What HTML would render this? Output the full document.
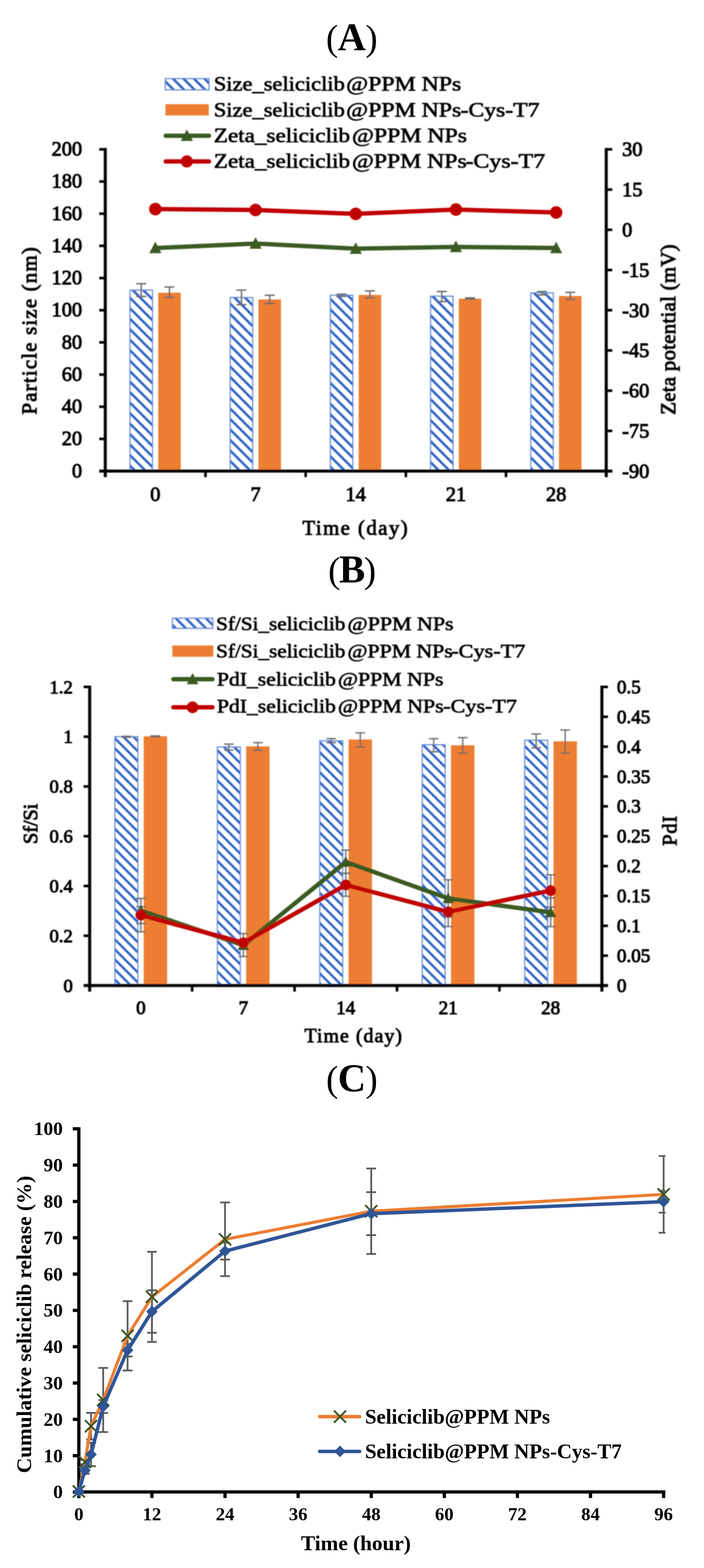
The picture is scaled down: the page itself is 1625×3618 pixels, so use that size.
<!DOCTYPE html><html><head><meta charset="utf-8"><title>Figure</title><style>html,body{margin:0;padding:0;background:#fff;}svg{display:block;}text{font-family:'Liberation Serif', 'Times New Roman', serif;fill:#000;}</style></head><body>
<svg width="1625" height="3618" viewBox="0 0 1625 3618">
<defs>
<pattern id="hA" patternUnits="userSpaceOnUse" width="24.2" height="24.2"><path d="M-5,-5 L29.2,29.2 M-5,19.2 L5,29.2 M19.2,-5 L29.2,5" stroke="#2E62C6" stroke-width="5.6"/></pattern>
<pattern id="hB" patternUnits="userSpaceOnUse" width="23.2" height="23.2"><path d="M-5,-5 L28.2,28.2 M-5,18.2 L5,28.2 M18.2,-5 L28.2,5" stroke="#2E62C6" stroke-width="5.4"/></pattern>
<filter id="soft" x="-2%" y="-2%" width="104%" height="104%"><feGaussianBlur stdDeviation="0.8"/></filter>
</defs>
<rect x="0" y="0" width="1625" height="3618" fill="#fff"/>
<text x="811.6" y="116" font-size="84" text-anchor="middle" letter-spacing="-1">(<tspan font-weight="bold" font-size="90">A</tspan>)</text>
<text x="811.3" y="1344" font-size="84" text-anchor="middle" letter-spacing="-2.8">(<tspan font-weight="bold" font-size="90">B</tspan>)</text>
<text x="811.7" y="2518" font-size="84" text-anchor="middle" letter-spacing="-1">(<tspan font-weight="bold" font-size="90">C</tspan>)</text>
<g filter="url(#soft)">
<rect x="381.5" y="181.3" width="101" height="26" fill="url(#hA)" stroke="#5E88D8" stroke-width="2.5"/>
<rect x="381.9" y="240.4" width="100" height="26" fill="#ED7D31" />
<line x1="382.5" y1="313.3" x2="482.5" y2="313.3" stroke="#3A5A24" stroke-width="10" stroke-linecap="round"/>
<polygon points="431.3,298.7 445.3,325.3 417.3,325.3" fill="#3A5A24"/>
<line x1="382.5" y1="372.6" x2="482.5" y2="372.6" stroke="#C00000" stroke-width="10" stroke-linecap="round"/>
<circle cx="431.3" cy="372.6" r="14" fill="#C00000"/>
<text x="493.4" y="209" font-size="46" font-weight="normal" text-anchor="start" textLength="302.6" lengthAdjust="spacingAndGlyphs" stroke="#000" stroke-width="1.3">Size_seliciclib</text>
<text x="799.1" y="209" font-size="46" font-weight="normal" text-anchor="start" textLength="265.6" lengthAdjust="spacingAndGlyphs" stroke="#000" stroke-width="1.3">@PPM NPs</text>
<text x="493.4" y="268.5" font-size="46" font-weight="normal" text-anchor="start" textLength="302.6" lengthAdjust="spacingAndGlyphs" stroke="#000" stroke-width="1.3">Size_seliciclib</text>
<text x="799.1" y="268.5" font-size="46" font-weight="normal" text-anchor="start" textLength="265.6" lengthAdjust="spacingAndGlyphs" stroke="#000" stroke-width="1.3">@PPM NPs</text>
<text x="1063" y="268.5" font-size="46" font-weight="normal" text-anchor="start" textLength="182.3" lengthAdjust="spacingAndGlyphs" stroke="#000" stroke-width="1.3">-Cys-T7</text>
<text x="493.5" y="328" font-size="46" font-weight="normal" text-anchor="start" textLength="314.5" lengthAdjust="spacingAndGlyphs" stroke="#000" stroke-width="1.3">Zeta_seliciclib</text>
<text x="812.4" y="328" font-size="46" font-weight="normal" text-anchor="start" textLength="265.5" lengthAdjust="spacingAndGlyphs" stroke="#000" stroke-width="1.3">@PPM NPs</text>
<text x="493.5" y="386.5" font-size="46" font-weight="normal" text-anchor="start" textLength="314.5" lengthAdjust="spacingAndGlyphs" stroke="#000" stroke-width="1.3">Zeta_seliciclib</text>
<text x="812.4" y="386.5" font-size="46" font-weight="normal" text-anchor="start" textLength="264.8" lengthAdjust="spacingAndGlyphs" stroke="#000" stroke-width="1.3">@PPM NPs</text>
<text x="1074.5" y="386.5" font-size="46" font-weight="normal" text-anchor="start" textLength="183.7" lengthAdjust="spacingAndGlyphs" stroke="#000" stroke-width="1.3">-Cys-T7</text>
<rect x="300" y="669.4" width="52" height="417.6" fill="url(#hA)" stroke="#5E88D8" stroke-width="2.5"/>
<rect x="365.2" y="675.3" width="52" height="411.7" fill="#ED7D31" />
<rect x="531.3" y="686.4" width="52" height="400.6" fill="url(#hA)" stroke="#5E88D8" stroke-width="2.5"/>
<rect x="596.5" y="690.9" width="52" height="396.1" fill="#ED7D31" />
<rect x="762.5" y="681.2" width="52" height="405.8" fill="url(#hA)" stroke="#5E88D8" stroke-width="2.5"/>
<rect x="827.8" y="680.5" width="52" height="406.5" fill="#ED7D31" />
<rect x="993.8" y="683.3" width="52" height="403.7" fill="url(#hA)" stroke="#5E88D8" stroke-width="2.5"/>
<rect x="1059" y="689.1" width="52" height="397.9" fill="#ED7D31" />
<rect x="1225.1" y="675.7" width="52" height="411.3" fill="url(#hA)" stroke="#5E88D8" stroke-width="2.5"/>
<rect x="1290.3" y="683.1" width="52" height="403.9" fill="#ED7D31" />
<line x1="326" y1="654.6" x2="326" y2="684" stroke="#6A6A6A" stroke-width="3.2" />
<line x1="314.5" y1="654.6" x2="337.5" y2="654.6" stroke="#6A6A6A" stroke-width="3.2" />
<line x1="314.5" y1="684" x2="337.5" y2="684" stroke="#6A6A6A" stroke-width="3.2" />
<line x1="391.2" y1="662.2" x2="391.2" y2="686.4" stroke="#6A6A6A" stroke-width="3.2" />
<line x1="379.7" y1="662.2" x2="402.7" y2="662.2" stroke="#6A6A6A" stroke-width="3.2" />
<line x1="379.7" y1="686.4" x2="402.7" y2="686.4" stroke="#6A6A6A" stroke-width="3.2" />
<line x1="557.3" y1="669.4" x2="557.3" y2="703" stroke="#6A6A6A" stroke-width="3.2" />
<line x1="545.8" y1="669.4" x2="568.8" y2="669.4" stroke="#6A6A6A" stroke-width="3.2" />
<line x1="545.8" y1="703" x2="568.8" y2="703" stroke="#6A6A6A" stroke-width="3.2" />
<line x1="622.5" y1="681.2" x2="622.5" y2="700.2" stroke="#6A6A6A" stroke-width="3.2" />
<line x1="611" y1="681.2" x2="634" y2="681.2" stroke="#6A6A6A" stroke-width="3.2" />
<line x1="611" y1="700.2" x2="634" y2="700.2" stroke="#6A6A6A" stroke-width="3.2" />
<line x1="788.5" y1="678.8" x2="788.5" y2="684" stroke="#6A6A6A" stroke-width="3.2" />
<line x1="777" y1="678.8" x2="800" y2="678.8" stroke="#6A6A6A" stroke-width="3.2" />
<line x1="777" y1="684" x2="800" y2="684" stroke="#6A6A6A" stroke-width="3.2" />
<line x1="853.8" y1="671.2" x2="853.8" y2="687.4" stroke="#6A6A6A" stroke-width="3.2" />
<line x1="842.2" y1="671.2" x2="865.2" y2="671.2" stroke="#6A6A6A" stroke-width="3.2" />
<line x1="842.2" y1="687.4" x2="865.2" y2="687.4" stroke="#6A6A6A" stroke-width="3.2" />
<line x1="1019.8" y1="672.5" x2="1019.8" y2="696" stroke="#6A6A6A" stroke-width="3.2" />
<line x1="1008.3" y1="672.5" x2="1031.3" y2="672.5" stroke="#6A6A6A" stroke-width="3.2" />
<line x1="1008.3" y1="696" x2="1031.3" y2="696" stroke="#6A6A6A" stroke-width="3.2" />
<line x1="1085" y1="687.4" x2="1085" y2="690.2" stroke="#6A6A6A" stroke-width="3.2" />
<line x1="1073.5" y1="687.4" x2="1096.5" y2="687.4" stroke="#6A6A6A" stroke-width="3.2" />
<line x1="1073.5" y1="690.2" x2="1096.5" y2="690.2" stroke="#6A6A6A" stroke-width="3.2" />
<line x1="1251.1" y1="672.7" x2="1251.1" y2="680.5" stroke="#6A6A6A" stroke-width="3.2" />
<line x1="1239.6" y1="672.7" x2="1262.6" y2="672.7" stroke="#6A6A6A" stroke-width="3.2" />
<line x1="1239.6" y1="680.5" x2="1262.6" y2="680.5" stroke="#6A6A6A" stroke-width="3.2" />
<line x1="1316.3" y1="674.5" x2="1316.3" y2="690.9" stroke="#6A6A6A" stroke-width="3.2" />
<line x1="1304.8" y1="674.5" x2="1327.8" y2="674.5" stroke="#6A6A6A" stroke-width="3.2" />
<line x1="1304.8" y1="690.9" x2="1327.8" y2="690.9" stroke="#6A6A6A" stroke-width="3.2" />
<polyline points="358.6,572.3 589.9,561.9 821.1,573.8 1052.4,569.7 1283.7,572.3" fill="none" stroke="#3A5A24" stroke-width="10" stroke-linejoin="round" />
<polygon points="358.6,557.7 372.6,584.3 344.6,584.3" fill="#3A5A24"/>
<polygon points="589.9,547.3 603.9,573.9 575.9,573.9" fill="#3A5A24"/>
<polygon points="821.1,559.2 835.1,585.8 807.1,585.8" fill="#3A5A24"/>
<polygon points="1052.4,555.1 1066.4,581.7 1038.4,581.7" fill="#3A5A24"/>
<polygon points="1283.7,557.7 1297.7,584.3 1269.7,584.3" fill="#3A5A24"/>
<polyline points="358.6,482.5 589.9,484.6 821.1,493.4 1052.4,483.6 1283.7,490.3" fill="none" stroke="#C00000" stroke-width="10" stroke-linejoin="round" />
<circle cx="358.6" cy="482.5" r="14.5" fill="#C00000"/>
<circle cx="589.9" cy="484.6" r="14.5" fill="#C00000"/>
<circle cx="821.1" cy="493.4" r="14.5" fill="#C00000"/>
<circle cx="1052.4" cy="483.6" r="14.5" fill="#C00000"/>
<circle cx="1283.7" cy="490.3" r="14.5" fill="#C00000"/>
<line x1="243" y1="341.6" x2="243" y2="1101" stroke="#000" stroke-width="7" />
<line x1="1399.3" y1="341.6" x2="1399.3" y2="1101" stroke="#000" stroke-width="7" />
<line x1="229" y1="1087" x2="1413.3" y2="1087" stroke="#000" stroke-width="7" />
<line x1="229" y1="1087" x2="243" y2="1087" stroke="#000" stroke-width="6" />
<text x="189.5" y="1101.5" font-size="47" font-weight="normal" text-anchor="end" stroke="#000" stroke-width="1.9">0</text>
<line x1="229" y1="1012.8" x2="243" y2="1012.8" stroke="#000" stroke-width="6" />
<text x="189.5" y="1027.3" font-size="47" font-weight="normal" text-anchor="end" stroke="#000" stroke-width="1.9">20</text>
<line x1="229" y1="938.5" x2="243" y2="938.5" stroke="#000" stroke-width="6" />
<text x="189.5" y="953" font-size="47" font-weight="normal" text-anchor="end" stroke="#000" stroke-width="1.9">40</text>
<line x1="229" y1="864.3" x2="243" y2="864.3" stroke="#000" stroke-width="6" />
<text x="189.5" y="878.8" font-size="47" font-weight="normal" text-anchor="end" stroke="#000" stroke-width="1.9">60</text>
<line x1="229" y1="790" x2="243" y2="790" stroke="#000" stroke-width="6" />
<text x="189.5" y="804.5" font-size="47" font-weight="normal" text-anchor="end" stroke="#000" stroke-width="1.9">80</text>
<line x1="229" y1="715.8" x2="243" y2="715.8" stroke="#000" stroke-width="6" />
<text x="189.5" y="730.3" font-size="47" font-weight="normal" text-anchor="end" stroke="#000" stroke-width="1.9">100</text>
<line x1="229" y1="641.6" x2="243" y2="641.6" stroke="#000" stroke-width="6" />
<text x="189.5" y="656.1" font-size="47" font-weight="normal" text-anchor="end" stroke="#000" stroke-width="1.9">120</text>
<line x1="229" y1="567.3" x2="243" y2="567.3" stroke="#000" stroke-width="6" />
<text x="189.5" y="581.8" font-size="47" font-weight="normal" text-anchor="end" stroke="#000" stroke-width="1.9">140</text>
<line x1="229" y1="493.1" x2="243" y2="493.1" stroke="#000" stroke-width="6" />
<text x="189.5" y="507.6" font-size="47" font-weight="normal" text-anchor="end" stroke="#000" stroke-width="1.9">160</text>
<line x1="229" y1="418.8" x2="243" y2="418.8" stroke="#000" stroke-width="6" />
<text x="189.5" y="433.3" font-size="47" font-weight="normal" text-anchor="end" stroke="#000" stroke-width="1.9">180</text>
<line x1="229" y1="344.6" x2="243" y2="344.6" stroke="#000" stroke-width="6" />
<text x="189.5" y="359.1" font-size="47" font-weight="normal" text-anchor="end" stroke="#000" stroke-width="1.9">200</text>
<line x1="1399.3" y1="344.6" x2="1413.3" y2="344.6" stroke="#000" stroke-width="6" />
<text x="1436" y="360.4" font-size="47" font-weight="normal" text-anchor="start" stroke="#000" stroke-width="1.9">30</text>
<line x1="1399.3" y1="437.4" x2="1413.3" y2="437.4" stroke="#000" stroke-width="6" />
<text x="1436" y="453.2" font-size="47" font-weight="normal" text-anchor="start" stroke="#000" stroke-width="1.9">15</text>
<line x1="1399.3" y1="530.2" x2="1413.3" y2="530.2" stroke="#000" stroke-width="6" />
<text x="1436" y="546" font-size="47" font-weight="normal" text-anchor="start" stroke="#000" stroke-width="1.9">0</text>
<line x1="1399.3" y1="623" x2="1413.3" y2="623" stroke="#000" stroke-width="6" />
<text x="1436" y="638.8" font-size="47" font-weight="normal" text-anchor="start" stroke="#000" stroke-width="1.9">-15</text>
<line x1="1399.3" y1="715.8" x2="1413.3" y2="715.8" stroke="#000" stroke-width="6" />
<text x="1436" y="731.6" font-size="47" font-weight="normal" text-anchor="start" stroke="#000" stroke-width="1.9">-30</text>
<line x1="1399.3" y1="808.6" x2="1413.3" y2="808.6" stroke="#000" stroke-width="6" />
<text x="1436" y="824.4" font-size="47" font-weight="normal" text-anchor="start" stroke="#000" stroke-width="1.9">-45</text>
<line x1="1399.3" y1="901.4" x2="1413.3" y2="901.4" stroke="#000" stroke-width="6" />
<text x="1436" y="917.2" font-size="47" font-weight="normal" text-anchor="start" stroke="#000" stroke-width="1.9">-60</text>
<line x1="1399.3" y1="994.2" x2="1413.3" y2="994.2" stroke="#000" stroke-width="6" />
<text x="1436" y="1010" font-size="47" font-weight="normal" text-anchor="start" stroke="#000" stroke-width="1.9">-75</text>
<line x1="1399.3" y1="1087" x2="1413.3" y2="1087" stroke="#000" stroke-width="6" />
<text x="1436" y="1102.8" font-size="47" font-weight="normal" text-anchor="start" stroke="#000" stroke-width="1.9">-90</text>
<line x1="243" y1="1087" x2="243" y2="1101" stroke="#000" stroke-width="6" />
<line x1="474.3" y1="1087" x2="474.3" y2="1101" stroke="#000" stroke-width="6" />
<line x1="705.5" y1="1087" x2="705.5" y2="1101" stroke="#000" stroke-width="6" />
<line x1="936.8" y1="1087" x2="936.8" y2="1101" stroke="#000" stroke-width="6" />
<line x1="1168" y1="1087" x2="1168" y2="1101" stroke="#000" stroke-width="6" />
<line x1="1399.3" y1="1087" x2="1399.3" y2="1101" stroke="#000" stroke-width="6" />
<text x="358.6" y="1156" font-size="47" font-weight="normal" text-anchor="middle" stroke="#000" stroke-width="1.9">0</text>
<text x="589.9" y="1156" font-size="47" font-weight="normal" text-anchor="middle" stroke="#000" stroke-width="1.9">7</text>
<text x="821.1" y="1156" font-size="47" font-weight="normal" text-anchor="middle" stroke="#000" stroke-width="1.9">14</text>
<text x="1052.4" y="1156" font-size="47" font-weight="normal" text-anchor="middle" stroke="#000" stroke-width="1.9">21</text>
<text x="1283.7" y="1156" font-size="47" font-weight="normal" text-anchor="middle" stroke="#000" stroke-width="1.9">28</text>
<text x="819.5" y="1233.5" font-size="48" font-weight="normal" text-anchor="middle" textLength="243" lengthAdjust="spacing" stroke="#000" stroke-width="1.7">Time (day)</text>
<text transform="translate(84,763.5) rotate(-90)" x="0" y="0" font-size="48" text-anchor="middle" textLength="386" lengthAdjust="spacing" stroke="#000" stroke-width="1.9">Particle size (nm)</text>
<text transform="translate(1558.5,760.5) rotate(-90)" x="0" y="0" font-size="48" text-anchor="middle" textLength="393" lengthAdjust="spacing" stroke="#000" stroke-width="1.9">Zeta potential (mV)</text>
<rect x="397.8" y="1426.4" width="93.5" height="23.5" fill="url(#hB)" stroke="#5E88D8" stroke-width="2.5"/>
<rect x="397.8" y="1489.4" width="94.5" height="26" fill="#ED7D31" />
<line x1="400" y1="1567.2" x2="490.5" y2="1567.2" stroke="#3A5A24" stroke-width="10" stroke-linecap="round"/>
<polygon points="444.5,1553.1 458,1578.7 431,1578.7" fill="#3A5A24"/>
<line x1="400" y1="1632" x2="490.5" y2="1632" stroke="#C00000" stroke-width="10" stroke-linecap="round"/>
<circle cx="444.5" cy="1632" r="13.5" fill="#C00000"/>
<text x="498.8" y="1453.5" font-size="45" font-weight="normal" text-anchor="start" textLength="298.5" lengthAdjust="spacingAndGlyphs" stroke="#000" stroke-width="1.3">Sf/Si_seliciclib</text>
<text x="802.1" y="1453.5" font-size="45" font-weight="normal" text-anchor="start" textLength="244.9" lengthAdjust="spacingAndGlyphs" stroke="#000" stroke-width="1.3">@PPM NPs</text>
<text x="498.8" y="1517" font-size="45" font-weight="normal" text-anchor="start" textLength="298.5" lengthAdjust="spacingAndGlyphs" stroke="#000" stroke-width="1.3">Sf/Si_seliciclib</text>
<text x="802.1" y="1517" font-size="45" font-weight="normal" text-anchor="start" textLength="242.9" lengthAdjust="spacingAndGlyphs" stroke="#000" stroke-width="1.3">@PPM NPs</text>
<text x="1041.5" y="1517" font-size="45" font-weight="normal" text-anchor="start" textLength="171.3" lengthAdjust="spacingAndGlyphs" stroke="#000" stroke-width="1.3">-Cys-T7</text>
<text x="500.8" y="1581.5" font-size="45" font-weight="normal" text-anchor="start" textLength="274.4" lengthAdjust="spacingAndGlyphs" stroke="#000" stroke-width="1.3">PdI_seliciclib</text>
<text x="780" y="1581.5" font-size="45" font-weight="normal" text-anchor="start" textLength="243.5" lengthAdjust="spacingAndGlyphs" stroke="#000" stroke-width="1.3">@PPM NPs</text>
<text x="500.8" y="1643.5" font-size="45" font-weight="normal" text-anchor="start" textLength="274.4" lengthAdjust="spacingAndGlyphs" stroke="#000" stroke-width="1.3">PdI_seliciclib</text>
<text x="780" y="1643.5" font-size="45" font-weight="normal" text-anchor="start" textLength="244" lengthAdjust="spacingAndGlyphs" stroke="#000" stroke-width="1.3">@PPM NPs</text>
<text x="1023" y="1643.5" font-size="45" font-weight="normal" text-anchor="start" textLength="170.4" lengthAdjust="spacingAndGlyphs" stroke="#000" stroke-width="1.3">-Cys-T7</text>
<rect x="265.2" y="1699.7" width="53" height="574.3" fill="url(#hB)" stroke="#5E88D8" stroke-width="2.5"/>
<rect x="331.7" y="1698.8" width="54" height="575.2" fill="#ED7D31" />
<rect x="501.7" y="1723.5" width="53" height="550.5" fill="url(#hB)" stroke="#5E88D8" stroke-width="2.5"/>
<rect x="568.2" y="1722.2" width="54" height="551.8" fill="#ED7D31" />
<rect x="738.1" y="1709.3" width="53" height="564.7" fill="url(#hB)" stroke="#5E88D8" stroke-width="2.5"/>
<rect x="804.6" y="1706.3" width="54" height="567.7" fill="#ED7D31" />
<rect x="974.6" y="1718.4" width="53" height="555.6" fill="url(#hB)" stroke="#5E88D8" stroke-width="2.5"/>
<rect x="1041.1" y="1719.6" width="54" height="554.4" fill="#ED7D31" />
<rect x="1211.1" y="1708" width="53" height="566" fill="url(#hB)" stroke="#5E88D8" stroke-width="2.5"/>
<rect x="1277.6" y="1710.5" width="54" height="563.5" fill="#ED7D31" />
<line x1="291.7" y1="1699" x2="291.7" y2="1701" stroke="#6A6A6A" stroke-width="3" />
<line x1="280.7" y1="1699" x2="302.7" y2="1699" stroke="#6A6A6A" stroke-width="3" />
<line x1="280.7" y1="1701" x2="302.7" y2="1701" stroke="#6A6A6A" stroke-width="3" />
<line x1="358.7" y1="1698" x2="358.7" y2="1700" stroke="#6A6A6A" stroke-width="3" />
<line x1="347.7" y1="1698" x2="369.7" y2="1698" stroke="#6A6A6A" stroke-width="3" />
<line x1="347.7" y1="1700" x2="369.7" y2="1700" stroke="#6A6A6A" stroke-width="3" />
<line x1="528.2" y1="1717" x2="528.2" y2="1730.8" stroke="#6A6A6A" stroke-width="3" />
<line x1="517.2" y1="1717" x2="539.2" y2="1717" stroke="#6A6A6A" stroke-width="3" />
<line x1="517.2" y1="1730.8" x2="539.2" y2="1730.8" stroke="#6A6A6A" stroke-width="3" />
<line x1="595.2" y1="1713.5" x2="595.2" y2="1731.2" stroke="#6A6A6A" stroke-width="3" />
<line x1="584.2" y1="1713.5" x2="606.2" y2="1713.5" stroke="#6A6A6A" stroke-width="3" />
<line x1="584.2" y1="1731.2" x2="606.2" y2="1731.2" stroke="#6A6A6A" stroke-width="3" />
<line x1="764.6" y1="1704.4" x2="764.6" y2="1713.5" stroke="#6A6A6A" stroke-width="3" />
<line x1="753.6" y1="1704.4" x2="775.6" y2="1704.4" stroke="#6A6A6A" stroke-width="3" />
<line x1="753.6" y1="1713.5" x2="775.6" y2="1713.5" stroke="#6A6A6A" stroke-width="3" />
<line x1="831.6" y1="1691" x2="831.6" y2="1723.8" stroke="#6A6A6A" stroke-width="3" />
<line x1="820.6" y1="1691" x2="842.6" y2="1691" stroke="#6A6A6A" stroke-width="3" />
<line x1="820.6" y1="1723.8" x2="842.6" y2="1723.8" stroke="#6A6A6A" stroke-width="3" />
<line x1="1001.1" y1="1704.4" x2="1001.1" y2="1734.7" stroke="#6A6A6A" stroke-width="3" />
<line x1="990.1" y1="1704.4" x2="1012.1" y2="1704.4" stroke="#6A6A6A" stroke-width="3" />
<line x1="990.1" y1="1734.7" x2="1012.1" y2="1734.7" stroke="#6A6A6A" stroke-width="3" />
<line x1="1068.1" y1="1702" x2="1068.1" y2="1737.7" stroke="#6A6A6A" stroke-width="3" />
<line x1="1057.1" y1="1702" x2="1079.1" y2="1702" stroke="#6A6A6A" stroke-width="3" />
<line x1="1057.1" y1="1737.7" x2="1079.1" y2="1737.7" stroke="#6A6A6A" stroke-width="3" />
<line x1="1237.6" y1="1693.6" x2="1237.6" y2="1725.6" stroke="#6A6A6A" stroke-width="3" />
<line x1="1226.6" y1="1693.6" x2="1248.6" y2="1693.6" stroke="#6A6A6A" stroke-width="3" />
<line x1="1226.6" y1="1725.6" x2="1248.6" y2="1725.6" stroke="#6A6A6A" stroke-width="3" />
<line x1="1304.6" y1="1684.5" x2="1304.6" y2="1737.7" stroke="#6A6A6A" stroke-width="3" />
<line x1="1293.6" y1="1684.5" x2="1315.6" y2="1684.5" stroke="#6A6A6A" stroke-width="3" />
<line x1="1293.6" y1="1737.7" x2="1315.6" y2="1737.7" stroke="#6A6A6A" stroke-width="3" />
<line x1="325.2" y1="2073" x2="325.2" y2="2131" stroke="#6A6A6A" stroke-width="3" />
<line x1="314.2" y1="2073" x2="336.2" y2="2073" stroke="#6A6A6A" stroke-width="3" />
<line x1="314.2" y1="2131" x2="336.2" y2="2131" stroke="#6A6A6A" stroke-width="3" />
<line x1="325.2" y1="2092" x2="325.2" y2="2150" stroke="#6A6A6A" stroke-width="3" />
<line x1="314.2" y1="2092" x2="336.2" y2="2092" stroke="#6A6A6A" stroke-width="3" />
<line x1="314.2" y1="2150" x2="336.2" y2="2150" stroke="#6A6A6A" stroke-width="3" />
<line x1="561.7" y1="2154" x2="561.7" y2="2207" stroke="#6A6A6A" stroke-width="3" />
<line x1="550.7" y1="2154" x2="572.7" y2="2154" stroke="#6A6A6A" stroke-width="3" />
<line x1="550.7" y1="2207" x2="572.7" y2="2207" stroke="#6A6A6A" stroke-width="3" />
<line x1="798.1" y1="1961.5" x2="798.1" y2="2015" stroke="#6A6A6A" stroke-width="3" />
<line x1="787.1" y1="1961.5" x2="809.1" y2="1961.5" stroke="#6A6A6A" stroke-width="3" />
<line x1="787.1" y1="2015" x2="809.1" y2="2015" stroke="#6A6A6A" stroke-width="3" />
<line x1="798.1" y1="2015" x2="798.1" y2="2068" stroke="#6A6A6A" stroke-width="3" />
<line x1="787.1" y1="2015" x2="809.1" y2="2015" stroke="#6A6A6A" stroke-width="3" />
<line x1="787.1" y1="2068" x2="809.1" y2="2068" stroke="#6A6A6A" stroke-width="3" />
<line x1="1034.6" y1="2030" x2="1034.6" y2="2116" stroke="#6A6A6A" stroke-width="3" />
<line x1="1023.6" y1="2030" x2="1045.6" y2="2030" stroke="#6A6A6A" stroke-width="3" />
<line x1="1023.6" y1="2116" x2="1045.6" y2="2116" stroke="#6A6A6A" stroke-width="3" />
<line x1="1034.6" y1="2070" x2="1034.6" y2="2138" stroke="#6A6A6A" stroke-width="3" />
<line x1="1023.6" y1="2070" x2="1045.6" y2="2070" stroke="#6A6A6A" stroke-width="3" />
<line x1="1023.6" y1="2138" x2="1045.6" y2="2138" stroke="#6A6A6A" stroke-width="3" />
<line x1="1271.1" y1="2018.6" x2="1271.1" y2="2093" stroke="#6A6A6A" stroke-width="3" />
<line x1="1260.1" y1="2018.6" x2="1282.1" y2="2018.6" stroke="#6A6A6A" stroke-width="3" />
<line x1="1260.1" y1="2093" x2="1282.1" y2="2093" stroke="#6A6A6A" stroke-width="3" />
<line x1="1271.1" y1="2072" x2="1271.1" y2="2138" stroke="#6A6A6A" stroke-width="3" />
<line x1="1260.1" y1="2072" x2="1282.1" y2="2072" stroke="#6A6A6A" stroke-width="3" />
<line x1="1260.1" y1="2138" x2="1282.1" y2="2138" stroke="#6A6A6A" stroke-width="3" />
<polyline points="325.2,2101 561.7,2181 798.1,1989 1034.6,2073 1271.1,2105.2" fill="none" stroke="#3A5A24" stroke-width="10" stroke-linejoin="round" />
<polygon points="325.2,2087.4 338.2,2112.1 312.2,2112.1" fill="#3A5A24"/>
<polygon points="561.7,2167.4 574.7,2192.1 548.7,2192.1" fill="#3A5A24"/>
<polygon points="798.1,1975.4 811.1,2000.1 785.1,2000.1" fill="#3A5A24"/>
<polygon points="1034.6,2059.4 1047.6,2084.1 1021.6,2084.1" fill="#3A5A24"/>
<polygon points="1271.1,2091.6 1284.1,2116.3 1258.1,2116.3" fill="#3A5A24"/>
<polyline points="325.2,2111.5 561.7,2175.2 798.1,2041.9 1034.6,2104.1 1271.1,2054.9" fill="none" stroke="#C00000" stroke-width="10" stroke-linejoin="round" />
<circle cx="325.2" cy="2111.5" r="12.5" fill="#C00000"/>
<circle cx="561.7" cy="2175.2" r="12.5" fill="#C00000"/>
<circle cx="798.1" cy="2041.9" r="12.5" fill="#C00000"/>
<circle cx="1034.6" cy="2104.1" r="12.5" fill="#C00000"/>
<circle cx="1271.1" cy="2054.9" r="12.5" fill="#C00000"/>
<line x1="207" y1="1582" x2="207" y2="2288" stroke="#000" stroke-width="7" />
<line x1="1389.3" y1="1582" x2="1389.3" y2="2288" stroke="#000" stroke-width="7" />
<line x1="193" y1="2274" x2="1403.3" y2="2274" stroke="#000" stroke-width="7" />
<line x1="193" y1="2274" x2="207" y2="2274" stroke="#000" stroke-width="6" />
<text x="168" y="2288.5" font-size="43" font-weight="normal" text-anchor="end" stroke="#000" stroke-width="1.9">0</text>
<line x1="193" y1="2159.2" x2="207" y2="2159.2" stroke="#000" stroke-width="6" />
<text x="168" y="2173.7" font-size="43" font-weight="normal" text-anchor="end" stroke="#000" stroke-width="1.9">0.2</text>
<line x1="193" y1="2044.3" x2="207" y2="2044.3" stroke="#000" stroke-width="6" />
<text x="168" y="2058.8" font-size="43" font-weight="normal" text-anchor="end" stroke="#000" stroke-width="1.9">0.4</text>
<line x1="193" y1="1929.5" x2="207" y2="1929.5" stroke="#000" stroke-width="6" />
<text x="168" y="1944" font-size="43" font-weight="normal" text-anchor="end" stroke="#000" stroke-width="1.9">0.6</text>
<line x1="193" y1="1814.7" x2="207" y2="1814.7" stroke="#000" stroke-width="6" />
<text x="168" y="1829.2" font-size="43" font-weight="normal" text-anchor="end" stroke="#000" stroke-width="1.9">0.8</text>
<line x1="193" y1="1699.8" x2="207" y2="1699.8" stroke="#000" stroke-width="6" />
<text x="168" y="1714.3" font-size="43" font-weight="normal" text-anchor="end" stroke="#000" stroke-width="1.9">1</text>
<line x1="193" y1="1585" x2="207" y2="1585" stroke="#000" stroke-width="6" />
<text x="168" y="1599.5" font-size="43" font-weight="normal" text-anchor="end" stroke="#000" stroke-width="1.9">1.2</text>
<line x1="1389.3" y1="2274" x2="1403.3" y2="2274" stroke="#000" stroke-width="6" />
<text x="1424" y="2288.8" font-size="44" font-weight="normal" text-anchor="start" stroke="#000" stroke-width="1.9">0</text>
<line x1="1389.3" y1="2205.1" x2="1403.3" y2="2205.1" stroke="#000" stroke-width="6" />
<text x="1424" y="2219.9" font-size="44" font-weight="normal" text-anchor="start" stroke="#000" stroke-width="1.9">0.05</text>
<line x1="1389.3" y1="2136.2" x2="1403.3" y2="2136.2" stroke="#000" stroke-width="6" />
<text x="1424" y="2151" font-size="44" font-weight="normal" text-anchor="start" stroke="#000" stroke-width="1.9">0.1</text>
<line x1="1389.3" y1="2067.3" x2="1403.3" y2="2067.3" stroke="#000" stroke-width="6" />
<text x="1424" y="2082.1" font-size="44" font-weight="normal" text-anchor="start" stroke="#000" stroke-width="1.9">0.15</text>
<line x1="1389.3" y1="1998.4" x2="1403.3" y2="1998.4" stroke="#000" stroke-width="6" />
<text x="1424" y="2013.2" font-size="44" font-weight="normal" text-anchor="start" stroke="#000" stroke-width="1.9">0.2</text>
<line x1="1389.3" y1="1929.5" x2="1403.3" y2="1929.5" stroke="#000" stroke-width="6" />
<text x="1424" y="1944.3" font-size="44" font-weight="normal" text-anchor="start" stroke="#000" stroke-width="1.9">0.25</text>
<line x1="1389.3" y1="1860.6" x2="1403.3" y2="1860.6" stroke="#000" stroke-width="6" />
<text x="1424" y="1875.4" font-size="44" font-weight="normal" text-anchor="start" stroke="#000" stroke-width="1.9">0.3</text>
<line x1="1389.3" y1="1791.7" x2="1403.3" y2="1791.7" stroke="#000" stroke-width="6" />
<text x="1424" y="1806.5" font-size="44" font-weight="normal" text-anchor="start" stroke="#000" stroke-width="1.9">0.35</text>
<line x1="1389.3" y1="1722.8" x2="1403.3" y2="1722.8" stroke="#000" stroke-width="6" />
<text x="1424" y="1737.6" font-size="44" font-weight="normal" text-anchor="start" stroke="#000" stroke-width="1.9">0.4</text>
<line x1="1389.3" y1="1653.9" x2="1403.3" y2="1653.9" stroke="#000" stroke-width="6" />
<text x="1424" y="1668.7" font-size="44" font-weight="normal" text-anchor="start" stroke="#000" stroke-width="1.9">0.45</text>
<line x1="1389.3" y1="1585" x2="1403.3" y2="1585" stroke="#000" stroke-width="6" />
<text x="1424" y="1599.8" font-size="44" font-weight="normal" text-anchor="start" stroke="#000" stroke-width="1.9">0.5</text>
<line x1="207" y1="2274" x2="207" y2="2288" stroke="#000" stroke-width="6" />
<line x1="443.5" y1="2274" x2="443.5" y2="2288" stroke="#000" stroke-width="6" />
<line x1="679.9" y1="2274" x2="679.9" y2="2288" stroke="#000" stroke-width="6" />
<line x1="916.4" y1="2274" x2="916.4" y2="2288" stroke="#000" stroke-width="6" />
<line x1="1152.8" y1="2274" x2="1152.8" y2="2288" stroke="#000" stroke-width="6" />
<line x1="1389.3" y1="2274" x2="1389.3" y2="2288" stroke="#000" stroke-width="6" />
<text x="325.2" y="2340" font-size="44" font-weight="normal" text-anchor="middle" stroke="#000" stroke-width="1.9">0</text>
<text x="561.7" y="2340" font-size="44" font-weight="normal" text-anchor="middle" stroke="#000" stroke-width="1.9">7</text>
<text x="798.1" y="2340" font-size="44" font-weight="normal" text-anchor="middle" stroke="#000" stroke-width="1.9">14</text>
<text x="1034.6" y="2340" font-size="44" font-weight="normal" text-anchor="middle" stroke="#000" stroke-width="1.9">21</text>
<text x="1271.1" y="2340" font-size="44" font-weight="normal" text-anchor="middle" stroke="#000" stroke-width="1.9">28</text>
<text x="815.3" y="2404.5" font-size="46" font-weight="normal" text-anchor="middle" textLength="225" lengthAdjust="spacing" stroke="#000" stroke-width="1.7">Time (day)</text>
<text transform="translate(86,1901) rotate(-90)" x="0" y="0" font-size="47" font-weight="normal" text-anchor="middle" textLength="93" lengthAdjust="spacing" stroke="#000" stroke-width="1.9">Sf/Si</text>
<text transform="translate(1561.5,1917) rotate(-90)" x="0" y="0" font-size="47" font-weight="normal" text-anchor="middle" stroke="#000" stroke-width="1.8" textLength="69" lengthAdjust="spacing">PdI</text>
</g>
<line x1="182" y1="2601" x2="182" y2="3456.6" stroke="#000" stroke-width="7.5" />
<line x1="178" y1="3442.6" x2="1535.8" y2="3442.6" stroke="#000" stroke-width="7.5" />
<line x1="168" y1="3442.6" x2="182" y2="3442.6" stroke="#000" stroke-width="7.5" />
<text x="145" y="3457.4" font-size="44.5" font-weight="bold" text-anchor="end" >0</text>
<line x1="168" y1="3358.8" x2="182" y2="3358.8" stroke="#000" stroke-width="7.5" />
<text x="145" y="3373.6" font-size="44.5" font-weight="bold" text-anchor="end" >10</text>
<line x1="168" y1="3275" x2="182" y2="3275" stroke="#000" stroke-width="7.5" />
<text x="145" y="3289.8" font-size="44.5" font-weight="bold" text-anchor="end" >20</text>
<line x1="168" y1="3191.2" x2="182" y2="3191.2" stroke="#000" stroke-width="7.5" />
<text x="145" y="3206" font-size="44.5" font-weight="bold" text-anchor="end" >30</text>
<line x1="168" y1="3107.4" x2="182" y2="3107.4" stroke="#000" stroke-width="7.5" />
<text x="145" y="3122.2" font-size="44.5" font-weight="bold" text-anchor="end" >40</text>
<line x1="168" y1="3023.6" x2="182" y2="3023.6" stroke="#000" stroke-width="7.5" />
<text x="145" y="3038.4" font-size="44.5" font-weight="bold" text-anchor="end" >50</text>
<line x1="168" y1="2939.8" x2="182" y2="2939.8" stroke="#000" stroke-width="7.5" />
<text x="145" y="2954.6" font-size="44.5" font-weight="bold" text-anchor="end" >60</text>
<line x1="168" y1="2856" x2="182" y2="2856" stroke="#000" stroke-width="7.5" />
<text x="145" y="2870.8" font-size="44.5" font-weight="bold" text-anchor="end" >70</text>
<line x1="168" y1="2772.2" x2="182" y2="2772.2" stroke="#000" stroke-width="7.5" />
<text x="145" y="2787" font-size="44.5" font-weight="bold" text-anchor="end" >80</text>
<line x1="168" y1="2688.4" x2="182" y2="2688.4" stroke="#000" stroke-width="7.5" />
<text x="145" y="2703.2" font-size="44.5" font-weight="bold" text-anchor="end" >90</text>
<line x1="168" y1="2604.6" x2="182" y2="2604.6" stroke="#000" stroke-width="7.5" />
<text x="145" y="2619.4" font-size="44.5" font-weight="bold" text-anchor="end" >100</text>
<line x1="182" y1="3442.6" x2="182" y2="3456.6" stroke="#000" stroke-width="7.5" />
<text x="182" y="3507.5" font-size="43" font-weight="bold" text-anchor="middle" >0</text>
<line x1="350.7" y1="3442.6" x2="350.7" y2="3456.6" stroke="#000" stroke-width="7.5" />
<text x="350.7" y="3507.5" font-size="43" font-weight="bold" text-anchor="middle" >12</text>
<line x1="519.4" y1="3442.6" x2="519.4" y2="3456.6" stroke="#000" stroke-width="7.5" />
<text x="519.4" y="3507.5" font-size="43" font-weight="bold" text-anchor="middle" >24</text>
<line x1="688.2" y1="3442.6" x2="688.2" y2="3456.6" stroke="#000" stroke-width="7.5" />
<text x="688.2" y="3507.5" font-size="43" font-weight="bold" text-anchor="middle" >36</text>
<line x1="856.9" y1="3442.6" x2="856.9" y2="3456.6" stroke="#000" stroke-width="7.5" />
<text x="856.9" y="3507.5" font-size="43" font-weight="bold" text-anchor="middle" >48</text>
<line x1="1025.6" y1="3442.6" x2="1025.6" y2="3456.6" stroke="#000" stroke-width="7.5" />
<text x="1025.6" y="3507.5" font-size="43" font-weight="bold" text-anchor="middle" >60</text>
<line x1="1194.3" y1="3442.6" x2="1194.3" y2="3456.6" stroke="#000" stroke-width="7.5" />
<text x="1194.3" y="3507.5" font-size="43" font-weight="bold" text-anchor="middle" >72</text>
<line x1="1363" y1="3442.6" x2="1363" y2="3456.6" stroke="#000" stroke-width="7.5" />
<text x="1363" y="3507.5" font-size="43" font-weight="bold" text-anchor="middle" >84</text>
<line x1="1531.8" y1="3442.6" x2="1531.8" y2="3456.6" stroke="#000" stroke-width="7.5" />
<text x="1531.8" y="3507.5" font-size="43" font-weight="bold" text-anchor="middle" >96</text>
<text x="821.5" y="3577" font-size="49" font-weight="bold" text-anchor="middle" >Time (hour)</text>
<text transform="translate(72,3056) rotate(-90)" x="0" y="0" font-size="49" font-weight="bold" text-anchor="middle">Cumulative seliciclib release (%)</text>
<clipPath id="cclip"><rect x="150" y="2560" width="1386" height="900"/></clipPath>
<g clip-path="url(#cclip)">
<line x1="196.1" y1="3368.6" x2="196.1" y2="3378.6" stroke="#595959" stroke-width="4" />
<line x1="184.8" y1="3368.6" x2="207.3" y2="3368.6" stroke="#595959" stroke-width="4" />
<line x1="184.8" y1="3378.6" x2="207.3" y2="3378.6" stroke="#595959" stroke-width="4" />
<line x1="210.1" y1="3260" x2="210.1" y2="3321.6" stroke="#595959" stroke-width="4" />
<line x1="198.9" y1="3260" x2="221.4" y2="3260" stroke="#595959" stroke-width="4" />
<line x1="198.9" y1="3321.6" x2="221.4" y2="3321.6" stroke="#595959" stroke-width="4" />
<line x1="238.2" y1="3156.3" x2="238.2" y2="3304.3" stroke="#595959" stroke-width="4" />
<line x1="227" y1="3156.3" x2="249.5" y2="3156.3" stroke="#595959" stroke-width="4" />
<line x1="227" y1="3304.3" x2="249.5" y2="3304.3" stroke="#595959" stroke-width="4" />
<line x1="294.5" y1="3002.3" x2="294.5" y2="3162.3" stroke="#595959" stroke-width="4" />
<line x1="283.2" y1="3002.3" x2="305.7" y2="3002.3" stroke="#595959" stroke-width="4" />
<line x1="283.2" y1="3162.3" x2="305.7" y2="3162.3" stroke="#595959" stroke-width="4" />
<line x1="350.7" y1="2888.4" x2="350.7" y2="3096.4" stroke="#595959" stroke-width="4" />
<line x1="339.5" y1="2888.4" x2="362" y2="2888.4" stroke="#595959" stroke-width="4" />
<line x1="339.5" y1="3096.4" x2="362" y2="3096.4" stroke="#595959" stroke-width="4" />
<line x1="519.4" y1="2774.6" x2="519.4" y2="2944.6" stroke="#595959" stroke-width="4" />
<line x1="508.2" y1="2774.6" x2="530.7" y2="2774.6" stroke="#595959" stroke-width="4" />
<line x1="508.2" y1="2944.6" x2="530.7" y2="2944.6" stroke="#595959" stroke-width="4" />
<line x1="856.9" y1="2696.2" x2="856.9" y2="2893.4" stroke="#595959" stroke-width="4" />
<line x1="845.6" y1="2696.2" x2="868.1" y2="2696.2" stroke="#595959" stroke-width="4" />
<line x1="845.6" y1="2893.4" x2="868.1" y2="2893.4" stroke="#595959" stroke-width="4" />
<line x1="1531.8" y1="2667.4" x2="1531.8" y2="2844.4" stroke="#595959" stroke-width="4" />
<line x1="1520.5" y1="2667.4" x2="1543" y2="2667.4" stroke="#595959" stroke-width="4" />
<line x1="1520.5" y1="2844.4" x2="1543" y2="2844.4" stroke="#595959" stroke-width="4" />
<line x1="196.1" y1="3384.8" x2="196.1" y2="3400.4" stroke="#595959" stroke-width="4" />
<line x1="184.8" y1="3384.8" x2="207.3" y2="3384.8" stroke="#595959" stroke-width="4" />
<line x1="184.8" y1="3400.4" x2="207.3" y2="3400.4" stroke="#595959" stroke-width="4" />
<line x1="210.1" y1="3329" x2="210.1" y2="3383" stroke="#595959" stroke-width="4" />
<line x1="198.9" y1="3329" x2="221.4" y2="3329" stroke="#595959" stroke-width="4" />
<line x1="198.9" y1="3383" x2="221.4" y2="3383" stroke="#595959" stroke-width="4" />
<line x1="238.2" y1="3230.4" x2="238.2" y2="3260.4" stroke="#595959" stroke-width="4" />
<line x1="227" y1="3230.4" x2="249.5" y2="3230.4" stroke="#595959" stroke-width="4" />
<line x1="227" y1="3260.4" x2="249.5" y2="3260.4" stroke="#595959" stroke-width="4" />
<line x1="294.5" y1="3101" x2="294.5" y2="3130" stroke="#595959" stroke-width="4" />
<line x1="283.2" y1="3101" x2="305.7" y2="3101" stroke="#595959" stroke-width="4" />
<line x1="283.2" y1="3130" x2="305.7" y2="3130" stroke="#595959" stroke-width="4" />
<line x1="350.7" y1="2977.3" x2="350.7" y2="3075.3" stroke="#595959" stroke-width="4" />
<line x1="339.5" y1="2977.3" x2="362" y2="2977.3" stroke="#595959" stroke-width="4" />
<line x1="339.5" y1="3075.3" x2="362" y2="3075.3" stroke="#595959" stroke-width="4" />
<line x1="519.4" y1="2867.3" x2="519.4" y2="2906.3" stroke="#595959" stroke-width="4" />
<line x1="508.2" y1="2867.3" x2="530.7" y2="2867.3" stroke="#595959" stroke-width="4" />
<line x1="508.2" y1="2906.3" x2="530.7" y2="2906.3" stroke="#595959" stroke-width="4" />
<line x1="856.9" y1="2750.8" x2="856.9" y2="2850" stroke="#595959" stroke-width="4" />
<line x1="845.6" y1="2750.8" x2="868.1" y2="2750.8" stroke="#595959" stroke-width="4" />
<line x1="845.6" y1="2850" x2="868.1" y2="2850" stroke="#595959" stroke-width="4" />
<line x1="1531.8" y1="2747.5" x2="1531.8" y2="2798.1" stroke="#595959" stroke-width="4" />
<line x1="1520.5" y1="2747.5" x2="1543" y2="2747.5" stroke="#595959" stroke-width="4" />
<line x1="1520.5" y1="2798.1" x2="1543" y2="2798.1" stroke="#595959" stroke-width="4" />
</g>
<polyline points="182,3441.5 196.1,3373.6 210.1,3290.8 238.2,3230.3 294.5,3082.3 350.7,2992.4 519.4,2859.6 856.9,2794.8 1531.8,2755.9" fill="none" stroke="#ED7D31" stroke-width="7" stroke-linejoin="round" />
<path d="M169.3,3428.8 L194.7,3454.2 M169.3,3454.2 L194.7,3428.8" stroke="#375623" stroke-width="4.2" stroke-linecap="round"/>
<path d="M183.4,3360.9 L208.8,3386.3 M183.4,3386.3 L208.8,3360.9" stroke="#375623" stroke-width="4.2" stroke-linecap="round"/>
<path d="M197.4,3278.1 L222.8,3303.5 M197.4,3303.5 L222.8,3278.1" stroke="#375623" stroke-width="4.2" stroke-linecap="round"/>
<path d="M225.5,3217.6 L250.9,3243 M225.5,3243 L250.9,3217.6" stroke="#375623" stroke-width="4.2" stroke-linecap="round"/>
<path d="M281.8,3069.6 L307.2,3095 M281.8,3095 L307.2,3069.6" stroke="#375623" stroke-width="4.2" stroke-linecap="round"/>
<path d="M338,2979.7 L363.4,3005.1 M338,3005.1 L363.4,2979.7" stroke="#375623" stroke-width="4.2" stroke-linecap="round"/>
<path d="M506.7,2846.9 L532.1,2872.3 M506.7,2872.3 L532.1,2846.9" stroke="#375623" stroke-width="4.2" stroke-linecap="round"/>
<path d="M844.2,2782.1 L869.6,2807.5 M844.2,2807.5 L869.6,2782.1" stroke="#375623" stroke-width="4.2" stroke-linecap="round"/>
<path d="M1519.1,2743.2 L1544.5,2768.6 M1519.1,2768.6 L1544.5,2743.2" stroke="#375623" stroke-width="4.2" stroke-linecap="round"/>
<polyline points="182,3441.5 196.1,3392.6 210.1,3356 238.2,3245.4 294.5,3115.5 350.7,3026.3 519.4,2886.8 856.9,2800.4 1531.8,2772.8" fill="none" stroke="#2F5597" stroke-width="8" stroke-linejoin="round" />
<polygon points="182,3428.1 195.4,3441.5 182,3454.9 168.6,3441.5" fill="#2F5597"/>
<polygon points="196.1,3379.2 209.5,3392.6 196.1,3406 182.7,3392.6" fill="#2F5597"/>
<polygon points="210.1,3342.6 223.5,3356 210.1,3369.4 196.7,3356" fill="#2F5597"/>
<polygon points="238.2,3232 251.6,3245.4 238.2,3258.8 224.8,3245.4" fill="#2F5597"/>
<polygon points="294.5,3102.1 307.9,3115.5 294.5,3128.9 281.1,3115.5" fill="#2F5597"/>
<polygon points="350.7,3012.9 364.1,3026.3 350.7,3039.7 337.3,3026.3" fill="#2F5597"/>
<polygon points="519.4,2873.4 532.8,2886.8 519.4,2900.2 506,2886.8" fill="#2F5597"/>
<polygon points="856.9,2787 870.3,2800.4 856.9,2813.8 843.5,2800.4" fill="#2F5597"/>
<polygon points="1531.8,2759.4 1545.2,2772.8 1531.8,2786.2 1518.4,2772.8" fill="#2F5597"/>
<line x1="738" y1="3268.7" x2="830" y2="3268.7" stroke="#ED7D31" stroke-width="8" stroke-linecap="round"/>
<path d="M772.1,3256 L797.5,3281.4 M772.1,3281.4 L797.5,3256" stroke="#375623" stroke-width="4.2" stroke-linecap="round"/>
<line x1="738" y1="3348.9" x2="830" y2="3348.9" stroke="#2F5597" stroke-width="8" stroke-linecap="round"/>
<polygon points="784.8,3335.5 798.2,3348.9 784.8,3362.3 771.4,3348.9" fill="#2F5597"/>
<text x="842.4" y="3284.8" font-size="48" font-weight="bold" text-anchor="start" >Seliciclib@PPM NPs</text>
<text x="842.4" y="3365.2" font-size="48" font-weight="bold" text-anchor="start" >Seliciclib@PPM NPs-Cys-T7</text>
</svg></body></html>
